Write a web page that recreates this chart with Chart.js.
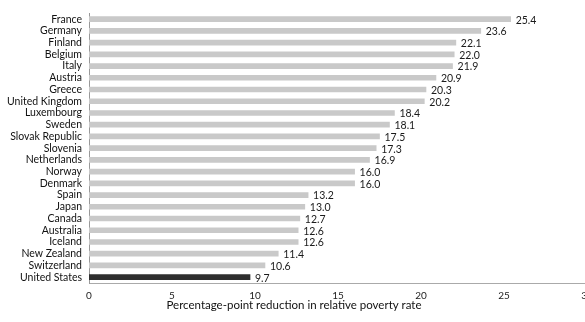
<!DOCTYPE html>
<html>
<head>
<meta charset="utf-8">
<script src="https://cdn.jsdelivr.net/npm/chart.js@4"></script>
<style>
  html, body { margin: 0; padding: 0; background: #fff; overflow: hidden; }
  #wrap { width: 600px; height: 322px; position: relative; }
</style>
</head>
<body>
<div id="wrap"><canvas id="graf"></canvas></div>
<script>
// Countries, top to bottom
const zemlje = ['France', 'Germany', 'Finland', 'Belgium', 'Italy', 'Austria', 'Greece',
  'United Kingdom', 'Luxembourg', 'Sweden', 'Slovak Republic', 'Slovenia', 'Netherlands',
  'Norway', 'Denmark', 'Spain', 'Japan', 'Canada', 'Australia', 'Iceland', 'New Zealand',
  'Switzerland', 'United States'];

// Percentage-point reduction in relative poverty rate
const smanjenje = [25.4, 23.6, 22.1, 22.0, 21.9, 20.9, 20.3, 20.2, 18.4, 18.1, 17.5, 17.3,
  16.9, 16.0, 16.0, 13.2, 13.0, 12.7, 12.6, 12.6, 11.4, 10.6, 9.7];

const xTicks = [0, 5, 10, 15, 20, 25, 30];
const naslovX = 'Percentage-point reduction in relative poverty rate';

const boje = zemlje.map(z => z === 'United States' ? '#2e2e2e' : '#c9c9c9');

// Value labels at the end of each bar, plus the axis title under the ticks
const oznake = {
  id: 'oznake',
  afterDatasetsDraw(chart) {
    const ctx = chart.ctx;
    const meta = chart.getDatasetMeta(0);
    ctx.save();
    ctx.font = '10.5px Lato';
    ctx.fillStyle = '#1a1a1a';
    ctx.textBaseline = 'middle';
    meta.data.forEach((bar, i) => {
      ctx.fillText(smanjenje[i].toFixed(1), bar.x + 5, bar.y + 1);
    });
    ctx.font = '11.5px Lato';
    ctx.fillStyle = '#111';
    ctx.textAlign = 'center';
    ctx.fillText(naslovX, 294, 305);
    ctx.restore();
  }
};

function nacrtaj() {
  new Chart(document.getElementById('graf'), {
    type: 'bar',
    data: {
      labels: zemlje,
      datasets: [{
        data: smanjenje,
        backgroundColor: boje,
        barThickness: 5
      }]
    },
    options: {
      indexAxis: 'y',
      responsive: true,
      maintainAspectRatio: false,
      animation: false,
      layout: { padding: { top: 7, right: 13, left: 0, bottom: 0 } },
      plugins: { legend: { display: false }, tooltip: { enabled: false } },
      scales: {
        x: {
          min: 0,
          max: 30,
          afterBuildTicks: s => { s.ticks = xTicks.map(v => ({ value: v })); },
          afterFit: s => { s.height = 39; },
          grid: { display: false, drawTicks: false },
          border: { display: true, color: '#aaa', dash: [1, 2] },
          ticks: { padding: 7, color: '#222', font: { family: 'Lato', size: 10 } }
        },
        y: {
          afterFit: s => { s.width = 89; },
          grid: { display: false, drawTicks: false },
          border: { display: true, color: '#999' },
          ticks: { padding: 7, color: '#111', autoSkip: false, font: { family: 'Lato', size: 10.5 } }
        }
      }
    },
    plugins: [oznake]
  });
}

Promise.all([
  document.fonts.load('10px Lato'),
  document.fonts.load('bold 10px Lato')
]).then(nacrtaj, nacrtaj);
</script>
</body>
</html>
